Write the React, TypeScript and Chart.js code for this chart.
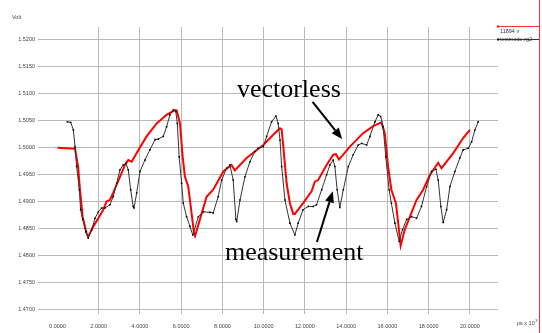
import React, { useEffect, useRef } from "react";
import { Chart, registerables } from "chart.js";

Chart.register(...registerables);

// x in ps x 10^3, y in Volt
const vectorlessX = [0, 0.85, 1.0, 1.09, 1.22, 1.41, 1.49, 1.74, 1.98, 2.22, 2.38, 2.54, 2.7, 3.03, 3.27, 3.43, 3.6, 3.84, 4.32, 4.81, 5.29, 5.7, 5.78, 5.94, 6.07, 6.18, 6.34, 6.5, 6.62, 6.67, 6.9, 7.23, 7.55, 8.04, 8.44, 8.6, 9.17, 9.98, 10.46, 10.79, 10.87, 10.95, 11.11, 11.27, 11.43, 11.51, 11.91, 12.32, 12.48, 12.64, 13.05, 13.37, 13.5, 13.65, 14.18, 14.82, 15.31, 15.71, 15.87, 16.03, 16.19, 16.41, 16.52, 16.64, 16.84, 17.09, 17.41, 17.73, 18.06, 18.46, 18.62, 19.19, 19.67, 20.0];
const vectorlessY = [1.5000, 1.4998, 1.4965, 1.4922, 1.4872, 1.4841, 1.4835, 1.4854, 1.4869, 1.4885, 1.4900, 1.4903, 1.4916, 1.4946, 1.4968, 1.4977, 1.4974, 1.4990, 1.5021, 1.5045, 1.5061, 1.5070, 1.5069, 1.5045, 1.4983, 1.4946, 1.4928, 1.4879, 1.4841, 1.4836, 1.4866, 1.4909, 1.4922, 1.4956, 1.4968, 1.4958, 1.4981, 1.5005, 1.5024, 1.5036, 1.5034, 1.5002, 1.4934, 1.4897, 1.4877, 1.4877, 1.4897, 1.4919, 1.4937, 1.4940, 1.4968, 1.4987, 1.4988, 1.4978, 1.5002, 1.5027, 1.5040, 1.5047, 1.5027, 1.4965, 1.4922, 1.4897, 1.4860, 1.4818, 1.4848, 1.4872, 1.4903, 1.4922, 1.4950, 1.4972, 1.4962, 1.4990, 1.5018, 1.5033];

const measurementX = [0.48, 0.64, 0.77, 0.85, 0.93, 1.06, 1.12, 1.22, 1.38, 1.49, 1.66, 1.82, 1.98, 2.14, 2.30, 2.54, 2.7, 2.87, 3.03, 3.19, 3.32, 3.43, 3.55, 3.67, 3.71, 3.84, 4.0, 4.24, 4.48, 4.73, 4.89, 5.13, 5.29, 5.45, 5.61, 5.74, 5.81, 5.90, 6.02, 6.10, 6.26, 6.42, 6.56, 6.83, 7.07, 7.39, 7.55, 7.79, 7.96, 8.2, 8.36, 8.52, 8.65, 8.69, 8.85, 9.09, 9.33, 9.57, 9.73, 9.98, 10.14, 10.38, 10.59, 10.7, 10.79, 10.87, 11.03, 11.27, 11.51, 11.67, 11.91, 12.16, 12.4, 12.56, 12.81, 13.05, 13.21, 13.37, 13.45, 13.56, 13.69, 13.86, 14.1, 14.34, 14.58, 14.75, 14.99, 15.15, 15.39, 15.55, 15.67, 15.79, 15.92, 16.08, 16.19, 16.36, 16.57, 16.73, 16.93, 17.17, 17.41, 17.65, 17.9, 18.14, 18.35, 18.46, 18.59, 18.70, 18.87, 19.03, 19.27, 19.51, 19.67, 19.92, 20.08, 20.24, 20.4];
const measurementY = [1.5048, 1.5047, 1.5033, 1.5002, 1.4965, 1.4922, 1.4885, 1.4867, 1.4844, 1.4832, 1.4848, 1.4869, 1.4881, 1.4888, 1.4888, 1.4894, 1.4909, 1.4934, 1.4959, 1.4968, 1.4971, 1.4959, 1.4922, 1.4891, 1.4888, 1.4916, 1.4956, 1.4977, 1.4996, 1.5015, 1.5016, 1.5021, 1.5039, 1.5061, 1.5070, 1.5067, 1.5045, 1.4983, 1.4934, 1.4897, 1.4872, 1.4854, 1.4838, 1.4872, 1.4881, 1.4880, 1.4879, 1.4909, 1.4940, 1.4962, 1.4968, 1.4940, 1.4867, 1.4863, 1.4903, 1.4946, 1.4974, 1.4993, 1.4999, 1.5002, 1.5021, 1.5048, 1.5059, 1.5045, 1.5014, 1.4965, 1.4903, 1.4860, 1.4838, 1.4860, 1.4885, 1.4891, 1.4891, 1.4894, 1.4922, 1.4950, 1.4968, 1.4977, 1.4965, 1.4922, 1.4889, 1.4922, 1.4965, 1.4987, 1.5005, 1.5008, 1.5005, 1.5021, 1.5048, 1.5061, 1.5058, 1.5039, 1.4983, 1.4922, 1.4897, 1.4860, 1.4826, 1.4848, 1.4867, 1.4872, 1.4869, 1.4891, 1.4928, 1.4956, 1.4960, 1.4940, 1.4891, 1.4861, 1.4885, 1.4928, 1.4956, 1.4981, 1.4996, 1.4999, 1.5011, 1.5033, 1.5048];

const xTickValues = [0, 2, 4, 6, 8, 10, 12, 14, 16, 18, 20];
const yTickValues = [1.47, 1.475, 1.48, 1.485, 1.49, 1.495, 1.5, 1.505, 1.51, 1.515, 1.52];

const yAxisTitle = "Volt";
const xAxisUnit = "ps x 10";
const xAxisUnitExp = "3";
const legendItems = ["11894 v", "testmode.rg2"];

// annotations: label, text anchor (data x, data y), arrow from/to (data)
const annotationLabels = ["vectorless", "measurement"];
const annotationTextX = [8.70, 8.12];
const annotationTextY = [1.50936, 1.47915];
const arrowFromX = [12.37, 12.58];
const arrowFromY = [1.50852, 1.48250];
const arrowToX = [13.8, 13.35];
const arrowToY = [1.50162, 1.49190];

const decorPlugin = {
  id: "decor",
  afterDraw(chart: any) {
    const ctx = chart.ctx;
    const xs = chart.scales.x;
    const ys = chart.scales.y;
    const area = chart.chartArea;
    ctx.save();
    // annotations
    ctx.fillStyle = "#000";
    ctx.strokeStyle = "#000";
    ctx.font = "26px 'Liberation Serif', 'Times New Roman', serif";
    ctx.textBaseline = "alphabetic";
    ctx.textAlign = "left";
    for (let i = 0; i < annotationLabels.length; i++) {
      ctx.fillText(annotationLabels[i], xs.getPixelForValue(annotationTextX[i]), ys.getPixelForValue(annotationTextY[i]));
      const x0 = xs.getPixelForValue(arrowFromX[i]);
      const y0 = ys.getPixelForValue(arrowFromY[i]);
      const x1 = xs.getPixelForValue(arrowToX[i]);
      const y1 = ys.getPixelForValue(arrowToY[i]);
      const ang = Math.atan2(y1 - y0, x1 - x0);
      const hl = 11;
      const hw = 4.5;
      const bx = x1 - hl * Math.cos(ang);
      const by = y1 - hl * Math.sin(ang);
      ctx.lineWidth = 2;
      ctx.beginPath();
      ctx.moveTo(x0, y0);
      ctx.lineTo(bx, by);
      ctx.stroke();
      ctx.beginPath();
      ctx.moveTo(x1, y1);
      ctx.lineTo(bx + hw * Math.sin(ang), by - hw * Math.cos(ang));
      ctx.lineTo(bx - hw * Math.sin(ang), by + hw * Math.cos(ang));
      ctx.closePath();
      ctx.fill();
    }
    // axis title & unit
    ctx.font = "5.5px 'Liberation Sans', Arial, sans-serif";
    ctx.fillStyle = "#444";
    ctx.textBaseline = "middle";
    ctx.fillText(yAxisTitle, 12, 17);
    ctx.fillText(xAxisUnit, 517, 323);
    const w = ctx.measureText(xAxisUnit).width;
    ctx.font = "4px 'Liberation Sans', Arial, sans-serif";
    ctx.fillText(xAxisUnitExp, 517 + w + 0.5, 320.5);
    // right-side legend markers
    const W = chart.width;
    const H = chart.height;
    ctx.strokeStyle = "#ff3030";
    ctx.lineWidth = 1;
    ctx.beginPath();
    ctx.moveTo(W - 2.5, 0);
    ctx.lineTo(W - 2.5, H);
    ctx.stroke();
    ctx.beginPath();
    ctx.moveTo(area.right, 26.5);
    ctx.lineTo(W - 2.5, 26.5);
    ctx.stroke();
    ctx.fillStyle = "#ff0000";
    ctx.fillRect(area.right - 1, 25.5, 2, 2);
    ctx.strokeStyle = "#333";
    ctx.beginPath();
    ctx.moveTo(area.right, 39.5);
    ctx.lineTo(W - 3, 39.5);
    ctx.stroke();
    ctx.fillStyle = "#111";
    ctx.fillRect(area.right - 1, 38.5, 2, 2);
    ctx.font = "5.5px 'Liberation Sans', Arial, sans-serif";
    ctx.fillStyle = "#333";
    ctx.textBaseline = "middle";
    ctx.fillText(legendItems[0], area.right + 2, 31);
    ctx.fillText(legendItems[1], area.right + 2, 39);
    ctx.restore();
  },
};

export default function App() {
  const ref = useRef<HTMLCanvasElement>(null);
  useEffect(() => {
    const canvas = ref.current!;
    const chart = new Chart(canvas, {
      type: "line",
      data: {
        datasets: [
          {
            label: "measurement",
            data: measurementX.map((x, i) => ({ x, y: measurementY[i] })),
            borderColor: "#333",
            borderWidth: 1,
            pointRadius: 1.1,
            pointBackgroundColor: "#000",
            pointBorderWidth: 0,
            pointStyle: "rect",
            tension: 0,
            order: 1,
          },
          {
            label: "vectorless",
            data: vectorlessX.map((x, i) => ({ x, y: vectorlessY[i] })),
            borderColor: "#ff0000",
            borderWidth: 2,
            pointRadius: 0,
            tension: 0,
            order: 2,
          },
        ],
      },
      options: {
        animation: false,
        responsive: false,
        maintainAspectRatio: false,
        devicePixelRatio: 1,
        layout: { padding: { left: 0, right: 44, top: 27, bottom: 0 } },
        plugins: { legend: { display: false }, tooltip: { enabled: false } },
        scales: {
          x: {
            type: "linear",
            min: -0.945,
            max: 21.36,
            afterBuildTicks: (s: any) => {
              s.ticks = xTickValues.map((v) => ({ value: v }));
            },
            afterFit: (s: any) => {
              s.height = 19;
            },
            grid: {
              drawTicks: false,
              color: (c: any) => (c.tick && c.tick.value === 0 ? "rgba(0,0,0,0)" : "#b8b8b8"),
              lineWidth: 1,
            },
            border: { display: false },
            ticks: {
              autoSkip: false,
              maxRotation: 0,
              padding: 9,
              color: "#444",
              font: { family: "'Liberation Sans', Arial, sans-serif", size: 5.5 },
              callback: (v: any) => Number(v).toFixed(4),
            },
          },
          y: {
            type: "linear",
            min: 1.46913,
            max: 1.52241,
            afterBuildTicks: (s: any) => {
              s.ticks = yTickValues.map((v) => ({ value: v }));
            },
            afterFit: (s: any) => {
              s.width = 38;
            },
            grid: { drawTicks: false, color: "#b8b8b8", lineWidth: 1 },
            border: { display: false },
            ticks: {
              autoSkip: false,
              padding: 3,
              color: "#444",
              font: { family: "'Liberation Sans', Arial, sans-serif", size: 5.5 },
              callback: (v: any) => Number(v).toFixed(4),
            },
          },
        },
      },
      plugins: [decorPlugin],
    });
    return () => chart.destroy();
  }, []);
  return (
    <div style={{ position: "fixed", left: 0, top: 0, width: 542, height: 333, background: "#fff" }}>
      <canvas ref={ref} width={542} height={333} style={{ width: 542, height: 333, display: "block" }} />
    </div>
  );
}
